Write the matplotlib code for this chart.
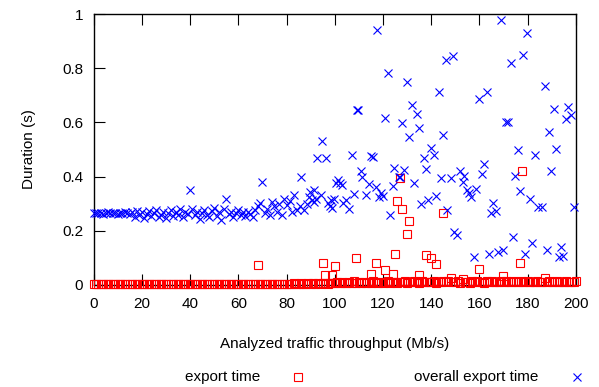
import matplotlib
matplotlib.use("Agg")
import matplotlib.pyplot as plt
from matplotlib.lines import Line2D

# ---------------- data ----------------
# overall export time (blue x)
band_x = list(range(0, 80))
band_y = [0.266, 0.264, 0.267, 0.265, 0.263, 0.266, 0.268, 0.264, 0.265, 0.267,
          0.262, 0.266, 0.264, 0.268, 0.265, 0.263, 0.270, 0.252, 0.274, 0.258,
          0.268, 0.247, 0.262, 0.272, 0.255, 0.266, 0.277, 0.251, 0.260, 0.270,
          0.249, 0.265, 0.275, 0.255, 0.268, 0.260, 0.280, 0.252, 0.270, 0.262,
          0.350, 0.282, 0.258, 0.270, 0.245, 0.265, 0.278, 0.260, 0.250, 0.272,
          0.285, 0.255, 0.268, 0.240, 0.280, 0.319, 0.262, 0.270, 0.250, 0.265,
          0.275, 0.260, 0.270, 0.255, 0.268, 0.262, 0.250, 0.275, 0.290, 0.301,
          0.381, 0.265, 0.280, 0.258, 0.307, 0.290, 0.270, 0.300, 0.258, 0.316]

scatter_x = [80.3, 81.5, 82.4, 83.1, 84.5, 85.5, 86.2, 87.2, 88.3, 89.3,
             89.9, 90.7, 91.4, 91.6, 92.1, 92.8, 94.2, 94.9, 96.3, 97.0,
             98.0, 98.3, 99.0, 99.7,
             100.4, 101.4, 102.2, 103.2, 103.6, 104.6, 105.9, 107.0, 108.0, 109.1,
             109.7, 110.8, 111.5, 112.9, 114.0, 115.0, 116.0, 117.0, 117.7, 118.4,
             119.1, 119.8, 120.9, 121.9, 122.9, 124.2, 124.7, 126.6, 127.9, 128.8,
             129.9, 130.9, 132.0, 133.0, 134.2, 134.8, 135.8, 137.1, 137.8, 138.5,
             139.9, 141.2, 141.8, 143.1, 144.0, 144.8, 146.2, 146.6, 148.1, 148.9,
             149.6, 150.7, 152.0, 153.6, 153.3, 154.8, 155.8, 156.5, 157.6, 158.6,
             160.0, 160.9, 162.0, 163.0, 164.0, 164.9, 165.8, 166.9, 167.7, 168.9,
             169.7, 171.1, 171.8, 172.9, 173.9, 174.7, 176.0, 176.7, 178.0, 178.8,
             179.8, 181.0, 181.9, 182.9, 184.3, 185.7, 187.0, 188.0, 188.9, 189.8,
             190.9, 191.9, 193.7, 193.0, 194.7, 196.0, 196.8, 197.8, 199.3, 126.9]
scatter_y = [0.295, 0.310, 0.270, 0.331, 0.276, 0.290, 0.399, 0.276, 0.300, 0.325,
             0.344, 0.313, 0.350, 0.307, 0.319, 0.467, 0.332, 0.532, 0.470, 0.301,
             0.290, 0.313, 0.283, 0.319,
             0.375, 0.387, 0.377, 0.368, 0.301, 0.313, 0.282, 0.480, 0.334, 0.645,
             0.647, 0.420, 0.399, 0.331, 0.372, 0.475, 0.472, 0.362, 0.942, 0.325,
             0.341, 0.330, 0.618, 0.782, 0.258, 0.365, 0.430, 0.398, 0.596, 0.424,
             0.749, 0.547, 0.666, 0.377, 0.632, 0.579, 0.298, 0.469, 0.428, 0.314,
             0.507, 0.479, 0.327, 0.713, 0.393, 0.552, 0.831, 0.276, 0.393, 0.846,
             0.196, 0.185, 0.419, 0.404, 0.380, 0.350, 0.338, 0.325, 0.104, 0.356,
             0.688, 0.409, 0.448, 0.712, 0.115, 0.264, 0.301, 0.273, 0.120, 0.978,
             0.128, 0.601, 0.601, 0.820, 0.177, 0.403, 0.497, 0.346, 0.850, 0.115,
             0.930, 0.319, 0.154, 0.481, 0.288, 0.288, 0.733, 0.129, 0.566, 0.420,
             0.651, 0.500, 0.140, 0.102, 0.108, 0.613, 0.657, 0.626, 0.288, 0.397]

overall_x = band_x + scatter_x
overall_y = band_y + scatter_y

# export time (red squares): baseline at every Mb/s step plus outliers
base_x = list(range(0, 201))
base_y = [0.002, 0.002, 0.003, 0.002, 0.002, 0.003, 0.002, 0.002, 0.003, 0.002,
          0.002, 0.003, 0.002, 0.002, 0.003, 0.002, 0.003, 0.002, 0.002, 0.003,
          0.002, 0.002, 0.003, 0.002, 0.003, 0.002, 0.002, 0.003, 0.002, 0.002,
          0.003, 0.002, 0.002, 0.003, 0.002, 0.003, 0.002, 0.002, 0.003, 0.002,
          0.002, 0.003, 0.002, 0.003, 0.002, 0.002, 0.003, 0.002, 0.003, 0.002,
          0.003, 0.002, 0.003, 0.002, 0.003, 0.002, 0.003, 0.003, 0.002, 0.003,
          0.003, 0.004, 0.003, 0.003, 0.004, 0.003, 0.004, 0.003, 0.004, 0.003,
          0.004, 0.003, 0.004, 0.004, 0.003, 0.004, 0.005, 0.003, 0.004, 0.005,
          0.004, 0.005, 0.004, 0.006, 0.004, 0.005, 0.006, 0.004, 0.005, 0.006,
          0.005, 0.006, 0.005, 0.007, 0.005, 0.006, 0.007, 0.005, 0.006, 0.007,
          0.006, 0.010, 0.008, 0.012, 0.007, 0.009, 0.011, 0.006, 0.013, 0.008,
          0.010, 0.007, 0.012, 0.009, 0.011, 0.008, 0.014, 0.010, 0.009, 0.012,
          0.008, 0.011, 0.013, 0.009, 0.010, 0.012, 0.008, 0.011, 0.010, 0.013,
          0.009, 0.012, 0.010, 0.014, 0.011, 0.009, 0.013, 0.010, 0.012, 0.011,
          0.010, 0.013, 0.009, 0.012, 0.011, 0.015, 0.010, 0.013, 0.025, 0.012,
          0.010, 0.014, 0.009, 0.021, 0.011, 0.012, 0.008, 0.015, 0.010, 0.013,
          0.011, 0.012, 0.009, 0.014, 0.010, 0.013, 0.011, 0.012, 0.010, 0.015,
          0.011, 0.013, 0.010, 0.012, 0.014, 0.011, 0.010, 0.013, 0.012, 0.011,
          0.013, 0.010, 0.012, 0.011, 0.014, 0.012, 0.010, 0.025, 0.011, 0.013,
          0.012, 0.011, 0.013, 0.010, 0.012, 0.011, 0.013, 0.012, 0.011, 0.012,
          0.013]
outlier_x = [68.0, 95.0, 95.8, 99.0, 99.9, 108.9, 115.0, 117.0, 120.8, 124.0,
             125.0, 126.9, 126.0, 128.0, 130.9, 130.0, 134.9, 137.8, 139.9, 141.8,
             144.9, 160.0, 169.8, 176.9, 177.8, 128.8]
outlier_y = [0.074, 0.080, 0.036, 0.037, 0.071, 0.098, 0.039, 0.080, 0.057, 0.040,
             0.116, 0.396, 0.309, 0.280, 0.237, 0.190, 0.038, 0.109, 0.098, 0.078,
             0.266, 0.058, 0.035, 0.082, 0.422, 0.010]

export_x = base_x + outlier_x
export_y = base_y + outlier_y

x_ticks = [0, 20, 40, 60, 80, 100, 120, 140, 160, 180, 200]
y_ticks = [0, 0.2, 0.4, 0.6, 0.8, 1]
y_tick_labels = ["0", "0.2", "0.4", "0.6", "0.8", "1"]

# ---------------- plot ----------------
plt.rcParams['font.family'] = ['Liberation Sans', 'DejaVu Sans']
FS = 11
fig = plt.figure(figsize=(5.99, 3.87), dpi=100)
ax = fig.add_axes([0.1561, 0.2636, 0.8055, 0.7002])

ax.plot(export_x, export_y, linestyle='none', marker='s', markersize=5.3,
        markerfacecolor='none', markeredgecolor='#ff0000', markeredgewidth=0.8,
        clip_on=False, zorder=3)
ax.plot(overall_x, overall_y, linestyle='none', marker='x', markersize=5.6,
        color='#0000ff', markeredgewidth=0.8, clip_on=False, zorder=4)

ax.set_xlim(0, 200)
ax.set_ylim(0, 1)
ax.set_xticks(x_ticks)
ax.set_yticks(y_ticks)
ax.set_yticklabels(y_tick_labels)
ax.tick_params(direction='in', top=True, right=False, length=8, width=0.8,
               labelsize=FS)
ax.tick_params(axis='x', pad=8.5)
ax.tick_params(axis='y', pad=7.5)
for s in ax.spines.values():
    s.set_linewidth(1.0)

ax.set_xlabel("Analyzed traffic throughput (Mb/s)", fontsize=FS, labelpad=19)
ax.set_ylabel("Duration (s)", fontsize=FS, labelpad=19)

# legend (gnuplot style: text then marker)
ly = 1 - 377 / 387
fig.text(260 / 599, ly, "export time", ha='right', va='center', fontsize=FS)
fig.add_artist(Line2D([298 / 599], [ly], transform=fig.transFigure, marker='s',
                      markersize=5.3, markerfacecolor='none',
                      markeredgecolor='#ff0000', markeredgewidth=0.8, linestyle='none'))
fig.text(538 / 599, ly, "overall export time", ha='right', va='center', fontsize=FS)
fig.add_artist(Line2D([577 / 599], [ly], transform=fig.transFigure, marker='x',
                      markersize=5.6, color='#0000ff', markeredgewidth=0.8,
                      linestyle='none'))

fig.savefig("out.png", dpi=100)
